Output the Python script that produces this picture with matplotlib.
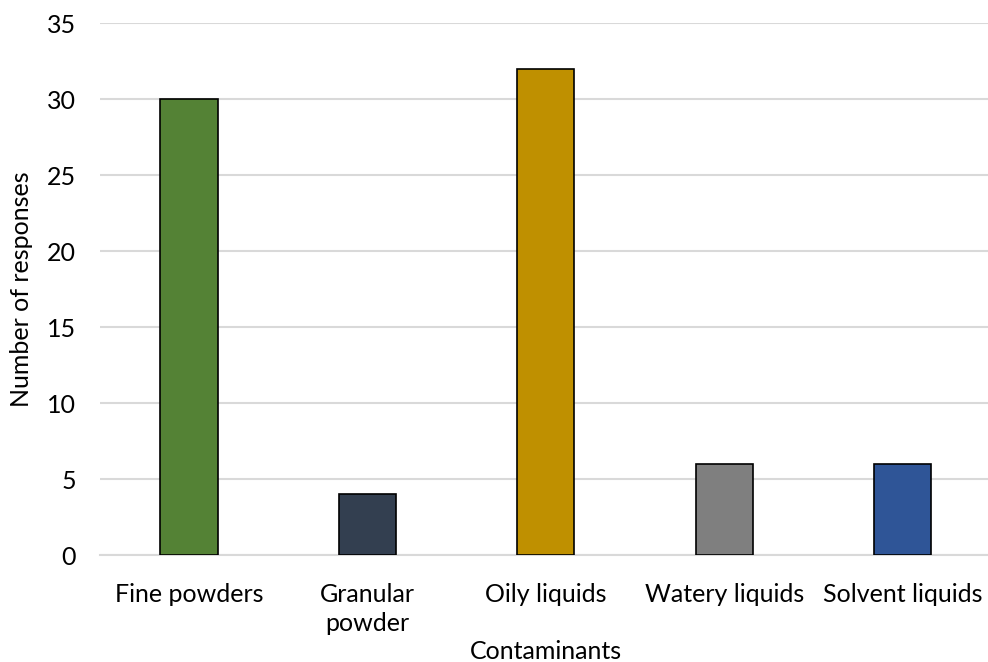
import matplotlib
matplotlib.use("Agg")
import matplotlib.pyplot as plt

categories = ["Fine powders", "Granular\npowder", "Oily liquids", "Watery liquids", "Solvent liquids"]
responses = [30, 4, 32, 6, 6]
bar_colors = ["#548235", "#333F50", "#BF9000", "#7F7F7F", "#2F5597"]
y_ticks = [0, 5, 10, 15, 20, 25, 30, 35]

plt.rcParams["font.family"] = ["Lato", "DejaVu Sans"]

fig = plt.figure(figsize=(9.88, 6.62), dpi=100)
ax = fig.add_axes([0.101, 0.1616, 0.903, 0.8034])

x = range(len(categories))
ax.bar(x, responses, width=0.32, color=bar_colors, edgecolor="black", linewidth=1.2, zorder=3)

ax.set_xlim(-0.5, len(categories) - 0.5)
ax.set_ylim(0, 35)
ax.set_yticks(y_ticks)
ax.set_xticks(list(x))
ax.set_xticklabels(categories, fontsize=18, va="top", linespacing=1.35)
ax.tick_params(axis="y", labelsize=18, length=0, pad=17)
ax.tick_params(axis="x", length=0, pad=20)
ax.grid(axis="y", color="#D9D9D9", linewidth=1.5, zorder=0)
for side in ["top", "right", "left"]:
    ax.spines[side].set_visible(False)
ax.spines["bottom"].set_color("#D9D9D9")
ax.spines["bottom"].set_linewidth(1.5)

ax.set_ylabel("Number of responses", fontsize=18, labelpad=10)
ax.set_xlabel("Contaminants", fontsize=18, labelpad=3)

fig.savefig("out.png", dpi=100)
